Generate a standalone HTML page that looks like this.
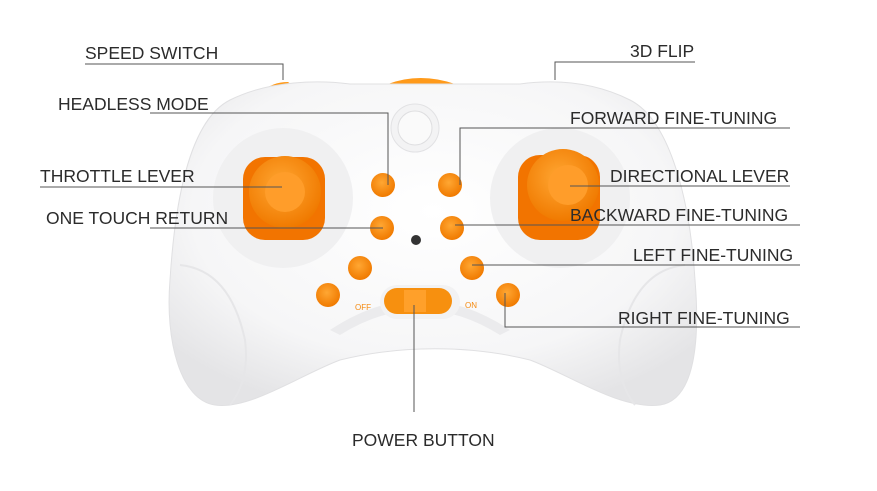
<!DOCTYPE html>
<html><head><style>
body{margin:0;background:#fff;}
svg{display:block}
text{font-family:"Liberation Sans",sans-serif;font-size:17.5px;fill:#2b2b2b}
</style></head><body>
<svg width="877" height="491" viewBox="0 0 877 491">
<defs>
<radialGradient id="body" cx="50%" cy="40%" r="65%">
<stop offset="0" stop-color="#ffffff"/><stop offset="0.7" stop-color="#f6f6f7"/><stop offset="1" stop-color="#e4e4e6"/>
</radialGradient>
<radialGradient id="or" cx="45%" cy="40%" r="60%">
<stop offset="0" stop-color="#ffa733"/><stop offset="1" stop-color="#f07a00"/>
</radialGradient>
</defs>
<path d="M388 84 Q420 72 455 84Z" fill="#ff9a1a"/>
<path d="M262 92 Q272 82 288 82 L296 88Z" fill="#ff9a1a"/>
<path d="M230 100 C190 120,175 200,170 280 C165 340,180 400,215 405 C250 410,300 375,340 360 C400 345,470 345,530 360 C570 375,620 410,660 405 C695 400,700 340,695 280 C690 200,670 120,630 100 C590 80,550 80,520 84 L350 84 C320 80,270 80,230 100Z" fill="url(#body)" stroke="#e0e0e2" stroke-width="1"/>
<path d="M180 265 Q230 270 245 340 Q250 380 230 405" fill="none" stroke="#e6e6e8" stroke-width="2"/>
<path d="M685 265 Q635 270 620 340 Q615 380 635 405" fill="none" stroke="#e6e6e8" stroke-width="2"/>
<circle cx="283" cy="198" r="70" fill="#f0f0f1"/>
<circle cx="560" cy="198" r="70" fill="#f0f0f1"/>
<path d="M330 330 Q420 270 510 330 L500 335 Q420 285 340 335Z" fill="#ebebed"/>
<rect x="243" y="157" width="82" height="83" rx="22" fill="#f27400"/>
<circle cx="285" cy="192" r="36" fill="url(#or)"/>
<circle cx="285" cy="192" r="20" fill="#ff9d2a"/>
<rect x="518" y="155" width="82" height="85" rx="22" fill="#f27400"/>
<circle cx="563" cy="185" r="36" fill="url(#or)"/>
<circle cx="568" cy="185" r="20" fill="#ff9d2a"/>
<circle cx="415" cy="128" r="24" fill="#f3f3f4" stroke="#e2e2e4"/>
<circle cx="415" cy="128" r="17" fill="#fafafa" stroke="#dedee0"/>
<g fill="url(#or)">
<circle cx="383" cy="185" r="12"/><circle cx="450" cy="185" r="12"/>
<circle cx="382" cy="228" r="12"/><circle cx="452" cy="228" r="12"/>
<circle cx="360" cy="268" r="12"/><circle cx="472" cy="268" r="12"/>
<circle cx="328" cy="295" r="12"/><circle cx="508" cy="295" r="12"/>
</g>
<circle cx="416" cy="240" r="5" fill="#333"/>
<rect x="380" y="285" width="80" height="34" rx="17" fill="#f2f2f3"/>
<rect x="384" y="288" width="68" height="26" rx="13" fill="#f7900f"/>
<rect x="404" y="290" width="22" height="22" fill="#ffa02a"/>
<text x="355" y="310" style="font-size:8px;fill:#f58a10">OFF</text>
<text x="465" y="308" style="font-size:8px;fill:#f58a10">ON</text>
<g stroke="#555" stroke-width="1" fill="none">
<polyline points="85,64 283,64 283,80"/>
<polyline points="695,62 555,62 555,80"/>
<polyline points="150,113 388,113 388,185"/>
<polyline points="790,128 460,128 460,185"/>
<polyline points="40,187 282,187"/>
<polyline points="570,186 790,186"/>
<polyline points="150,228 383,228"/>
<polyline points="455,225 800,225"/>
<polyline points="472,265 800,265"/>
<polyline points="505,293 505,327 800,327"/>
<polyline points="414,305 414,412"/>
</g>
<text x="85" y="59">SPEED SWITCH</text>
<text x="630" y="57">3D FLIP</text>
<text x="58" y="110">HEADLESS MODE</text>
<text x="570" y="124">FORWARD FINE-TUNING</text>
<text x="40" y="182">THROTTLE LEVER</text>
<text x="610" y="182">DIRECTIONAL LEVER</text>
<text x="46" y="224">ONE TOUCH RETURN</text>
<text x="570" y="221">BACKWARD FINE-TUNING</text>
<text x="633" y="261">LEFT FINE-TUNING</text>
<text x="618" y="324">RIGHT FINE-TUNING</text>
<text x="352" y="446">POWER BUTTON</text>
</svg>
</body></html>
